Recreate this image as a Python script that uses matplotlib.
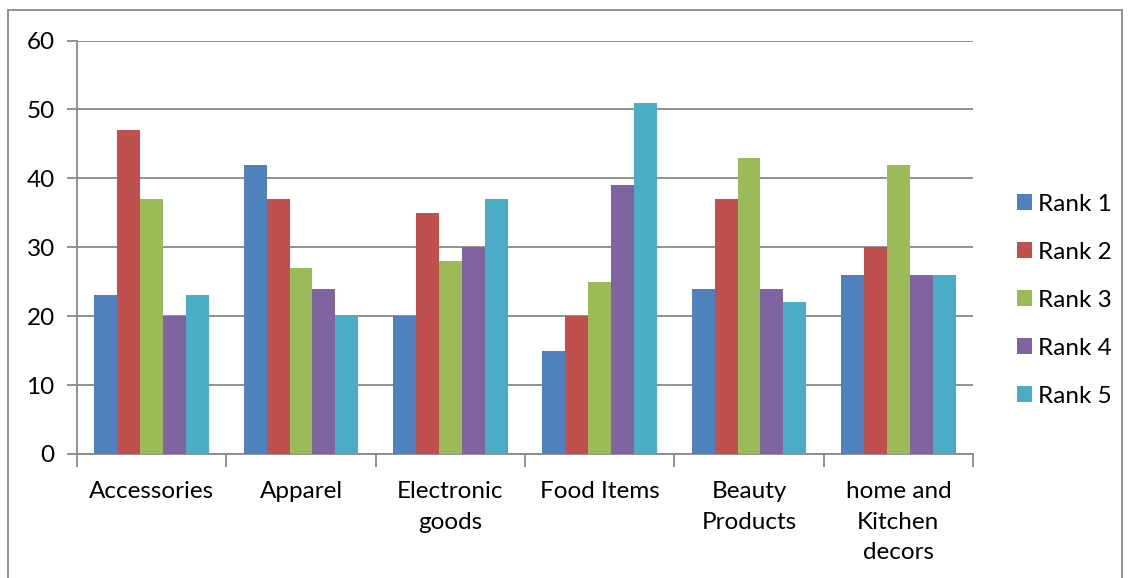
import numpy as np
import matplotlib.pyplot as plt
from matplotlib.patches import Rectangle

categories = ['Accessories', 'Apparel', 'Electronic\ngoods', 'Food Items',
              'Beauty\nProducts', 'home and\nKitchen\ndecors']
series_names = ['Rank 1', 'Rank 2', 'Rank 3', 'Rank 4', 'Rank 5']
rank1 = [23, 42, 20, 15, 24, 26]
rank2 = [47, 37, 35, 20, 37, 30]
rank3 = [37, 27, 28, 25, 43, 42]
rank4 = [20, 24, 30, 39, 24, 26]
rank5 = [23, 20, 37, 51, 22, 26]
colors = ['#4F81BD', '#C0504D', '#9BBB59', '#8064A2', '#4BACC6']

plt.rcParams['font.family'] = ['Lato', 'DejaVu Sans']

fig = plt.figure(figsize=(11.32, 5.78), dpi=100)
ax = fig.add_axes([77 / 1132, 1 - 454 / 578, (973 - 77) / 1132, (454 - 40.5) / 578])

n = len(series_names)
bw = 1 / 6.5
x = np.arange(len(categories))
for i, (vals, name) in enumerate(zip([rank1, rank2, rank3, rank4, rank5], series_names)):
    ax.bar(x + (i - (n - 1) / 2) * bw, vals, width=bw, color=colors[i], label=name,
           zorder=3)

ax.set_xlim(-0.5, len(categories) - 0.5)
ax.set_ylim(0, 60)
ax.set_yticks(range(0, 61, 10))
ax.grid(axis='y', color='#888888', linewidth=1.3, zorder=0)

ax.set_xticks(np.arange(-0.5, len(categories), 1))
ax.set_xticklabels([])
ax.set_xticks(x, minor=True)
ax.set_xticklabels(categories, minor=True, fontsize=17.5, linespacing=1.56)
ax.tick_params(axis='x', which='minor', length=0, pad=19.5)
ax.tick_params(axis='x', which='major', length=9, width=1.3, color='#888888')
ax.tick_params(axis='y', length=7, width=1.3, color='#888888', labelsize=17.5, pad=9)

for side in ['top', 'right']:
    ax.spines[side].set_visible(False)
for side in ['left', 'bottom']:
    ax.spines[side].set_color('#888888')
    ax.spines[side].set_linewidth(1.3)

ax.legend(loc='center left', bbox_to_anchor=(1.025, 0.372), frameon=False, fontsize=17.5,
          handlelength=0.6, handleheight=0.6, handletextpad=0.25, labelspacing=1.11)

fig.patches.append(Rectangle((8 / 1132, -0.05), (1122 - 8) / 1132, 1.05 - 10 / 578,
                             transform=fig.transFigure, fill=False,
                             edgecolor='#888888', linewidth=1.3))

plt.savefig('out.png', dpi=100)
